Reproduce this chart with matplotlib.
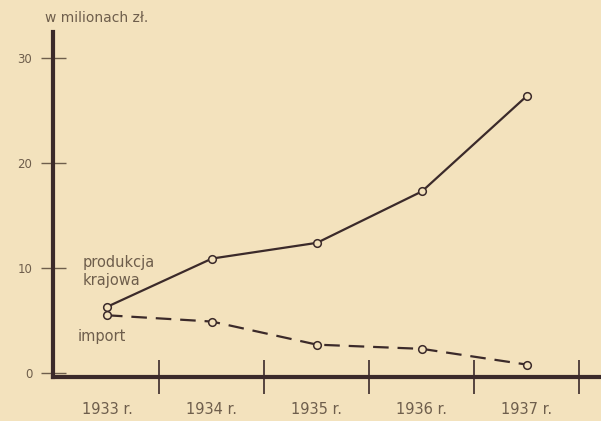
import matplotlib
matplotlib.use("Agg")
import matplotlib.pyplot as plt
import numpy as np

# values (millions of zloty)
years = [1933, 1934, 1935, 1936, 1937]
year_labels = ["1933 r.", "1934 r.", "1935 r.", "1936 r.", "1937 r."]
produkcja = [6.3, 10.9, 12.4, 17.3, 26.4]
imports = [5.5, 4.9, 2.7, 2.3, 0.8]
y_ticks = [0, 10, 20, 30]

paper = "#f3e2bd"
ink = "#3b2a2a"
pencil = "#6e5e4c"

fig = plt.figure(figsize=(6.01, 4.21), dpi=100)
fig.patch.set_facecolor(paper)
W, H = 601, 421
# axes box in pixels: left 53, right 601, top 32, bottom 377
ax = fig.add_axes([53 / W, 1 - 377 / H, (601 - 53) / W, (377 - 32) / H])
ax.set_facecolor(paper)

ax.plot(years, produkcja, color=ink, lw=1.6, marker="o", ms=5.5,
        mfc=paper, mec=ink, mew=1.1, zorder=3)
ax.plot(years, imports, color=ink, lw=1.6, dashes=(7, 4), marker="o", ms=5.5,
        mfc=paper, mec=ink, mew=1.1, zorder=3)

ax.set_xlim(1932.486, 1937.705)
ax.set_ylim(-0.38, 32.48)

for s in ["top", "right"]:
    ax.spines[s].set_visible(False)
for s in ["left", "bottom"]:
    ax.spines[s].set_color(ink)
    ax.spines[s].set_linewidth(3)

# x: labels at years, separator ticks between them
ax.set_xticks(years)
ax.set_xticklabels(year_labels, fontsize=10.5, color=pencil)
ax.tick_params(axis="x", which="major", length=0, pad=18)
ax.set_xticks([y + 0.5 for y in years], minor=True)
ax.tick_params(axis="x", which="minor", direction="inout", length=24,
               width=1.2, color=ink)

ax.set_yticks(y_ticks)
ax.set_yticklabels([str(v) for v in y_ticks], fontsize=8.5, color=pencil)
ax.tick_params(axis="y", direction="inout", length=18, width=1,
               color=pencil, pad=6)

fig.text(45 / W, 1 - 18 / H, "w milionach zł.", fontsize=10, color=pencil,
         va="center", ha="left")
fig.text(83 / W, 1 - 262 / H, "produkcja", fontsize=10.5, color=pencil,
         va="center", ha="left")
fig.text(83 / W, 1 - 281 / H, "krajowa", fontsize=10.5, color=pencil,
         va="center", ha="left")
fig.text(78 / W, 1 - 337 / H, "import", fontsize=10.5, color=pencil,
         va="center", ha="left")

fig.savefig("out.png", dpi=100, facecolor=paper)
